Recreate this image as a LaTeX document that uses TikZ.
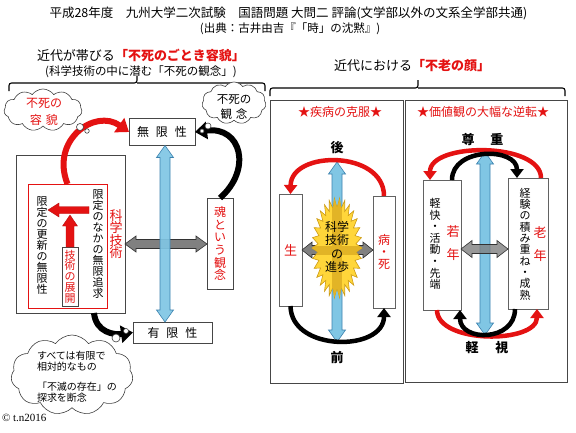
\documentclass[tikz,border=0pt]{standalone}
\usepackage{fontspec}
\setmainfont{Noto Sans CJK JP}
\newfontfamily\serifcp{Liberation Serif}
\usetikzlibrary{shapes.symbols,arrows.meta,calc}
\definecolor{jred}{RGB}{228,18,18}
\definecolor{bluef}{RGB}{128,198,228}
\definecolor{blued}{RGB}{60,130,175}
\definecolor{grayf}{RGB}{128,128,128}
\definecolor{grayd}{RGB}{50,50,50}
\definecolor{starf}{RGB}{255,214,58}
\definecolor{stard}{RGB}{205,155,20}
\definecolor{starb}{RGB}{226,180,38}
\definecolor{boxd}{RGB}{70,70,70}
\newcommand\jfs[2]{\fontsize{#1}{#2}\selectfont\lineskiplimit=-50pt\relax}
% double vertical block arrow: style, top tip, bottom tip, shaft hw, head hw, head length
\newcommand\dblV[6]{\path[#1] (#2) -- ($(#2)+(#5,#6)$) -- ($(#2)+(#4,#6)$) -- ($(#3)+(#4,-#6)$) -- ($(#3)+(#5,-#6)$) -- (#3) -- ($(#3)+(-#5,-#6)$) -- ($(#3)+(-#4,-#6)$) -- ($(#2)+(-#4,#6)$) -- ($(#2)+(-#5,#6)$) -- cycle;}
% double horizontal block arrow: style, left tip, right tip, shaft hh, head hh, head length
\newcommand\dblH[6]{\path[#1] (#2) -- ($(#2)+(#6,-#5)$) -- ($(#2)+(#6,-#4)$) -- ($(#3)+(-#6,-#4)$) -- ($(#3)+(-#6,-#5)$) -- (#3) -- ($(#3)+(-#6,#5)$) -- ($(#3)+(-#6,#4)$) -- ($(#2)+(#6,#4)$) -- ($(#2)+(#6,#5)$) -- cycle;}
% single vertical block arrow, tip at top
\newcommand\sglV[6]{\path[#1] (#2) -- ($(#2)+(#5,#6)$) -- ($(#2)+(#4,#6)$) -- ($(#3)+(#4,0)$) -- ($(#3)+(-#4,0)$) -- ($(#2)+(-#4,#6)$) -- ($(#2)+(-#5,#6)$) -- cycle;}
% single horizontal block arrow, tip at left
\newcommand\sglH[6]{\path[#1] (#2) -- ($(#2)+(#6,-#5)$) -- ($(#2)+(#6,-#4)$) -- ($(#3)+(0,-#4)$) -- ($(#3)+(0,#4)$) -- ($(#2)+(#6,#4)$) -- ($(#2)+(#6,#5)$) -- cycle;}
\begin{document}
\begin{tikzpicture}[x=1pt,y=-1pt,
  every node/.style={inner sep=0pt,outer sep=0pt},
  frame/.style={draw=boxd,line width=0.8pt},
  wbox/.style={draw=boxd!85,line width=0.6pt,fill=white},
  brk/.style={line width=1.1pt,rounded corners=2.5pt},
  cl/.style={cloud,cloud puffs=11,cloud puff arc=110,cloud ignores aspect,draw=black!75,line width=0.6pt,fill=white},
  bub/.style={circle,draw=black!75,line width=0.6pt,fill=white},
  bluearr/.style={fill=bluef,draw=blued,line width=0.6pt},
  grayarr/.style={fill=grayf,draw=grayd,line width=0.6pt},
  redblk/.style={fill=jred,draw=jred!80!black,line width=0.4pt},
  redarc/.style={draw=jred,line width=6pt,-{Triangle[width=17pt,length=12pt]}},
  blkarc/.style={draw=black,line width=6pt,-{Triangle[width=17pt,length=12pt]}},
  redarcs/.style={draw=jred,line width=4.5pt,-{Triangle[width=13pt,length=9pt]}},
  blkarcs/.style={draw=black,line width=4.5pt,-{Triangle[width=13pt,length=9pt]}},
  vt/.style={align=center},
]
\useasboundingbox (0,0) rectangle (576,432);
\fill[white] (0,0) rectangle (576,432);

% ---- titles
\node[font=\jfs{12.5}{13}] (t1) at (288.5,13) {平成28年度　九州大学二次試験　国語問題 大問二 評論(文学部以外の文系全学部共通)};
\node[font=\jfs{11.5}{13}] (t2) at (290,29) {(出典：古井由吉『「時」の沈黙』)};
\node[font=\jfs{13}{14}] (h1) at (141,55) {近代が帯びる{\color{jred}\bfseries 「不死のごとき容貌」}};
\node[font=\jfs{11.5}{12}] (h1s) at (141,72) {(科学技術の中に潜む「不死の観念」)};
\node[font=\jfs{13}{14}] (h2) at (412,66) {近代における{\color{jred}\bfseries 「不老の顔」}};

% ---- brackets
\draw[brk] (9,91) |- (137,83) -- (137,76);
\draw[brk] (137,83) -| (265,91);
\draw[brk] (270,96) |- (418,88) -- (418,80);
\draw[brk] (418,88) -| (565,96);

% ================= left panel
\node[frame,minimum width=109,minimum height=158] (ob) at (70.5,234) {};
\node[draw=jred,line width=1pt,minimum width=79,minimum height=124] (rb) at (67.5,246) {};
\node[vt,font=\jfs{11}{11}] (v1) at (98,244) {限\\定\\の\\な\\か\\の\\無\\限\\追\\求};
\node[vt,font=\jfs{11}{11}] (v2) at (42,246) {限\\定\\の\\更\\新\\の\\無\\限\\性};
\node[vt,draw=boxd,line width=0.6pt,fill=white,text=jred,minimum width=16,minimum height=59,font=\jfs{11}{10.8}] (tk) at (70,276.5) {技\\術\\の\\展\\開};
\coordinate (ra1) at (70,215);
\sglV{redblk}{ra1}{tk.north}{4}{7.5}{11}
\coordinate (ra2) at (48,210);
\coordinate (ra3) at (89,210);
\sglH{redblk}{ra2}{ra3}{3.5}{7}{11}
\node[vt,text=jred,font=\jfs{13}{12.5}] (kg) at (116,234) {科\\学\\技\\術};

\node[frame,minimum width=66,minimum height=27,font=\jfs{12}{12}] (mu) at (162,132) {無\hspace{7pt}限\hspace{7pt}性};
\node[frame,minimum width=79,minimum height=21,font=\jfs{12}{12}] (yu) at (172.5,332.5) {有\hspace{7pt}限\hspace{7pt}性};
\node[vt,frame,fill=white,minimum width=26,minimum height=91,text=jred,font=\jfs{12}{12.6}] (tm) at (220,243.5) {魂\\と\\い\\う\\観\\念};

% gray double arrow and blue arrow
\coordinate (gl1) at (ob.east |- 0,244);
\coordinate (gl2) at (tm.west |- 0,244);
\dblH{grayarr}{gl1}{gl2}{4.5}{8}{11}
\coordinate (bxL) at (165,0);
\coordinate (bl1) at (mu.south -| bxL);
\coordinate (bl2) at (yu.north -| bxL);
\dblV{bluearr,fill opacity=0.92}{bl1}{bl2}{5}{8.5}{12}

% curved arrows
\draw[redarc] (rb.north) .. controls (50,140) and (95,108) .. (mu.west);
\draw[blkarc] (tm.north) .. controls (252,170) and (242,126) .. (mu.east);
\coordinate (obs) at ($(ob.south)+(23.5,0)$);
\draw[blkarc] (obs) .. controls (96,333) and (115,335) .. (yu.west);

% clouds
\node[cl,minimum width=78,minimum height=42] (c1) at (43,110) {};
\node[vt,text=jred,font=\jfs{12}{17}] (c1t) at (44,112) {不死の\\容\hspace{4pt}貌};
\node[bub,minimum size=7] (c1b1) at (80,127) {};
\node[bub,minimum size=4.5] (c1b2) at (87,131) {};
\node[cl,minimum width=64,minimum height=42] (c2) at (234,103) {};
\node[vt,font=\jfs{11.5}{15}] (c2t) at (234,107) {不死の\\観\hspace{4pt}念};
\node[bub,minimum size=6] (c2b1) at (208,126) {};
\node[bub,minimum size=4] (c2b2) at (202,131) {};
\node[cl,minimum width=122,minimum height=80] (c3) at (72,375) {};
\node[align=left,anchor=north west,font=\jfs{10}{11.5}] (c3t) at (37,351) {すべては有限で\\相対的なもの\\[8pt]「不滅の存在」の\\探求を断念};
\node[bub,minimum size=8] (c3b1) at (116,338) {};
\node[bub,minimum size=5] (c3b2) at (126,331) {};

\node[font=\serifcp\fontsize{11}{11}\selectfont,anchor=west] (cp) at (2,418) {© t.n2016};

% ================= right panel, box 1
\node[frame,minimum width=133,minimum height=283] (p1) at (336.5,241.5) {};
\node[text=jred,font=\jfs{12}{12}] (p1t) at (340,112) {★疾病の克服★};
\node[font=\jfs{13}{13}\bfseries] (ato) at (337,148) {後};
\node[font=\jfs{13}{13}\bfseries] (mae) at (337,358) {前};
\node[wbox,minimum width=23,minimum height=112,text=jred,font=\jfs{13}{13}] (sei) at (290.5,250) {生};
\node[vt,wbox,minimum width=22,minimum height=112,text=jred,font=\jfs{12}{12}] (byo) at (384,252) {病\\・\\死};
\coordinate (g1a) at (sei.east |- 0,250);
\coordinate (g1b) at (byo.west |- 0,250);
\dblH{grayarr}{g1a}{g1b}{4.5}{8}{10}
\coordinate (b1a) at (337,162);
\coordinate (b1b) at (337,342);
\dblV{bluearr}{b1a}{b1b}{5}{8.5}{12}
\path[fill=starf,draw=stard,line width=0.6pt] plot[samples=61,domain=0:60,variable=\k] ({337+(19+6*(1-mod(\k,2)))*cos(\k*6)},{248+(40+10*(1-mod(\k,2)))*sin(\k*6)}) -- cycle;
\begin{scope}
\clip plot[samples=61,domain=0:60,variable=\k] ({337+(19+6*(1-mod(\k,2)))*cos(\k*6)},{248+(40+10*(1-mod(\k,2)))*sin(\k*6)}) -- cycle;
\fill[starb] (332,190) rectangle (342,305);
\fill[starb] (300,245.5) rectangle (375,254.5);
\end{scope}
\node[vt,font=\jfs{12}{13.3}] (kg2) at (337,247) {科学\\技術\\の\\進歩};
\draw[redarcs] (byo.north) .. controls (384,150) and (291,150) .. (sei.north);
\draw[blkarcs] (sei.south) .. controls (291,352) and (384,352) .. (byo.south);

% ================= right panel, box 2
\node[frame,minimum width=162,minimum height=282] (p2) at (486,241) {};
\node[text=jred,font=\jfs{12}{12}] (p2t) at (483,112) {★価値観の大幅な逆転★};
\node[font=\jfs{13}{13}\bfseries] (son) at (482.5,139) {尊\hspace{16pt}重};
\node[font=\jfs{13}{13}\bfseries] (kes) at (487,348) {軽\hspace{17pt}視};
\node[wbox,minimum width=38,minimum height=130] (jak) at (442,245) {};
\node[vt,font=\jfs{11}{11.6}] (jakt) at (435,244) {軽\\快\\・\\活\\動\\・\\先\\端};
\node[vt,text=jred,font=\jfs{13}{23}] (jakr) at (453,243.5) {若\\年};
\node[wbox,minimum width=40,minimum height=131] (rou) at (528,243.5) {};
\node[vt,font=\jfs{11}{11.3}] (rout) at (525,244) {経\\験\\の\\積\\み\\重\\ね\\・\\成\\熟};
\node[vt,text=jred,font=\jfs{13}{23}] (rour) at (540,244.5) {老\\年};
\coordinate (b2a) at (485,152);
\coordinate (b2b) at (485,335);
\dblV{bluearr}{b2a}{b2b}{5}{8.5}{12}
\coordinate (g2a) at (jak.east |- 0,249);
\coordinate (g2b) at (rou.west |- 0,249);
\dblH{grayarr,fill opacity=0.8}{g2a}{g2b}{4.5}{8.5}{11}
\coordinate (r2s) at ($(rou.north)+(13,0)$);
\coordinate (r2e) at ($(jak.north)+(-12,0)$);
\coordinate (k2s) at ($(jak.north)+(10,0)$);
\coordinate (k2e) at ($(rou.north)+(-11,0)$);
\draw[redarcs] (r2s) .. controls (541,142) and (430,142) .. (r2e);
\draw[blkarcs] (k2s) .. controls (452,147) and (517,147) .. (k2e);
\coordinate (r3s) at ($(jak.south)+(-5,0)$);
\coordinate (r3e) at ($(rou.south)+(9,0)$);
\coordinate (k3s) at ($(rou.south)+(-13,0)$);
\coordinate (k3e) at ($(jak.south)+(18,0)$);
\draw[redarcs] (r3s) .. controls (437,344) and (537,344) .. (r3e);
\draw[blkarcs] (k3s) .. controls (515,342) and (460,342) .. (k3e);
\end{tikzpicture}
\end{document}
